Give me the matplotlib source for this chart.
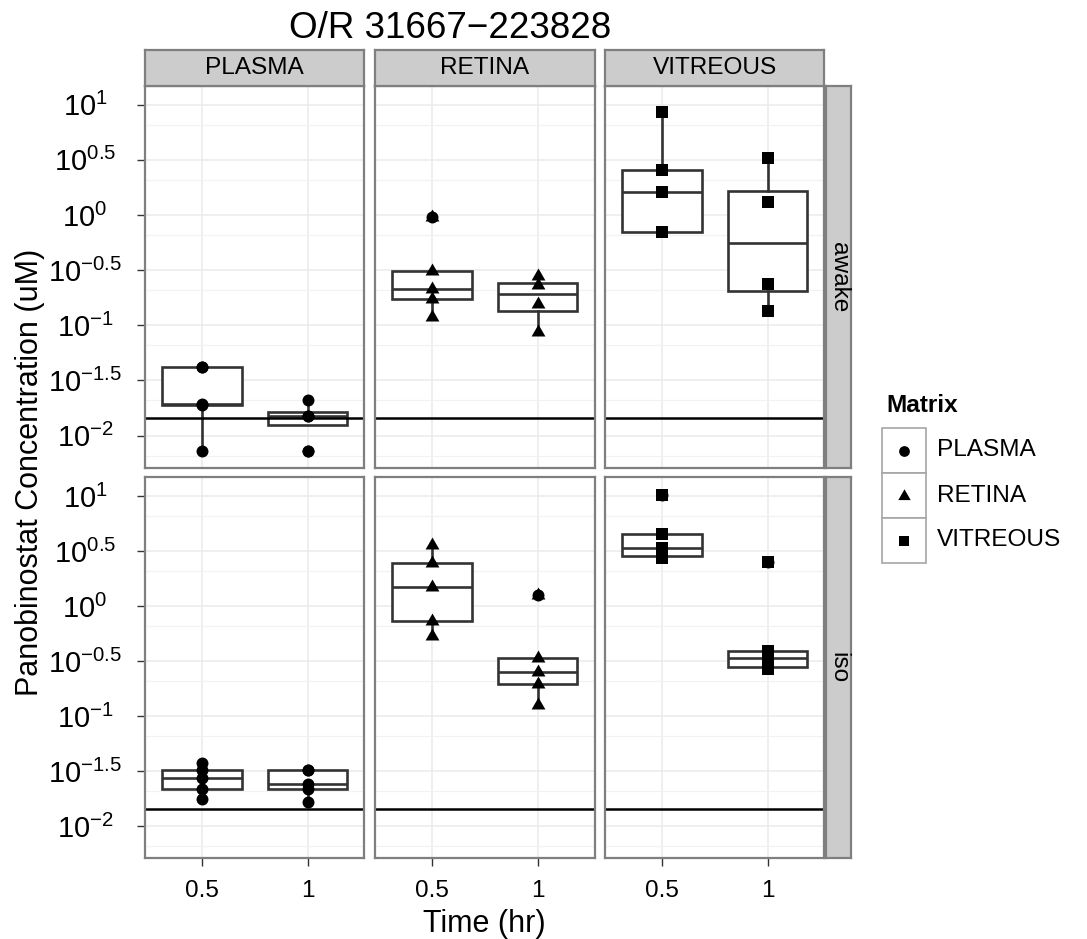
import numpy as np
import matplotlib
matplotlib.use("Agg")
import matplotlib.pyplot as plt
from matplotlib import cbook
from matplotlib.patches import Rectangle

plt.rcParams['font.family'] = ['Liberation Sans', 'DejaVu Sans']
plt.rcParams['mathtext.fontset'] = 'custom'
plt.rcParams['mathtext.rm'] = 'Liberation Sans'
plt.rcParams['mathtext.it'] = 'Liberation Sans:italic'
plt.rcParams['mathtext.bf'] = 'Liberation Sans:bold'

# ---------------- data (Panobinostat concentration, uM) ----------------
title = "O/R 31667\u2212223828"
matrices = ["PLASMA", "RETINA", "VITREOUS"]
states = ["awake", "iso"]
time_labels = ["0.5", "1"]
ytick_exps = [1, 0.5, 0, -0.5, -1, -1.5, -2]
ytick_labels = ["$10^{1}$", "$10^{0.5}$", "$10^{0}$", "$10^{-0.5}$",
                "$10^{-1}$", "$10^{-1.5}$", "$10^{-2}$"]
lloq = 0.0144

plasma_awake_05 = [0.00731, 0.0190, 0.0192, 0.0416, 0.0420]
plasma_awake_1 = [0.00731, 0.0149, 0.0149, 0.0211]
retina_awake_05 = [0.118, 0.173, 0.215, 0.310, 0.953]
retina_awake_1 = [0.0869, 0.157, 0.233, 0.277]
vitreous_awake_05 = [0.697, 0.697, 1.63, 2.56, 8.51]
vitreous_awake_1 = [0.134, 0.236, 1.32, 3.32]

plasma_iso_05 = [0.0177, 0.0219, 0.0275, 0.0327, 0.0377]
plasma_iso_1 = [0.0167, 0.0219, 0.0243, 0.0325, 0.0327]
retina_iso_05 = [0.533, 0.731, 1.49, 2.48, 3.61]
retina_iso_1 = [0.125, 0.195, 0.251, 0.337, 1.26]
vitreous_iso_05 = [2.75, 2.85, 3.35, 4.55, 10.35]
vitreous_iso_1 = [0.267, 0.281, 0.340, 0.390, 2.51]

data = {
    ("awake", "PLASMA"): [plasma_awake_05, plasma_awake_1],
    ("awake", "RETINA"): [retina_awake_05, retina_awake_1],
    ("awake", "VITREOUS"): [vitreous_awake_05, vitreous_awake_1],
    ("iso", "PLASMA"): [plasma_iso_05, plasma_iso_1],
    ("iso", "RETINA"): [retina_iso_05, retina_iso_1],
    ("iso", "VITREOUS"): [vitreous_iso_05, vitreous_iso_1],
}

# ---------------- styling ----------------
W, H = 1087, 939
fig = plt.figure(figsize=(W / 100, H / 100), dpi=100)
fig.patch.set_facecolor("white")


def rect(x0, y0, x1, y1):
    return [x0 / W, 1 - y1 / H, (x1 - x0) / W, (y1 - y0) / H]


tri = [(0, 1), (-0.866, -0.5), (0.866, -0.5)]
markers = {"PLASMA": ("o", 8.6), "RETINA": (tri, 11.5), "VITREOUS": ("s", 8.6)}

col_x = [(145, 364.5), (375, 594.5), (605, 824.5)]
row_y = [(86, 467.5), (477.5, 858)]
ylim = (-2.29, 1.17)
xlim = (0.46, 2.54)
box_c = "#333333"
border_c = "#7f7f7f"
fs_tick = 17.6
fs_ytick = 21
box_lw = 1.9
tick_len_pt = 6
ylab_center_px = 85

minor = [np.log10((10 ** a + 10 ** (a - 0.5)) / 2) for a in ytick_exps]

for r, st in enumerate(states):
    for c, mat in enumerate(matrices):
        ax = fig.add_axes(rect(col_x[c][0], row_y[r][0], col_x[c][1], row_y[r][1]))
        groups = data[(st, mat)]
        mk, ms = markers[mat]
        for i, vals in enumerate(groups):
            lv = np.log10(np.array(vals))
            stats = cbook.boxplot_stats(lv, whis=1.5)
            ax.bxp(stats, positions=[i + 1], widths=0.75, patch_artist=True,
                   showcaps=False, manage_ticks=False,
                   boxprops=dict(facecolor="white", edgecolor=box_c, linewidth=box_lw),
                   medianprops=dict(color=box_c, linewidth=box_lw),
                   whiskerprops=dict(color=box_c, linewidth=box_lw),
                   flierprops=dict(marker="o", markerfacecolor="black",
                                   markeredgecolor="none", markersize=8.6),
                   zorder=2)
            ax.plot(np.full(len(lv), i + 1), lv, linestyle="none", marker=mk,
                    markersize=ms, color="black", markeredgewidth=0, zorder=4)
        ax.axhline(np.log10(lloq), color="black", lw=1.8, zorder=5)

        ax.set_xlim(*xlim)
        ax.set_ylim(*ylim)
        ax.set_axisbelow(True)
        ax.set_yticks(ytick_exps)
        ax.set_yticks(minor, minor=True)
        ax.set_xticks([1, 2])
        ax.grid(which="major", color="#ebebeb", lw=1.1)
        ax.grid(which="minor", axis="y", color="#f2f2f2", lw=0.9)
        for sp in ax.spines.values():
            sp.set_color(border_c)
            sp.set_linewidth(1.6)
            sp.set_zorder(6)
        ax.tick_params(which="minor", length=0)
        ax.tick_params(which="major", color="#333333", width=1.0, length=tick_len_pt)
        if c == 0:
            ax.set_yticklabels(ytick_labels, fontsize=fs_ytick)
            for lab in ax.get_yticklabels():
                lab.set_horizontalalignment("center")
            pad_px = col_x[0][0] - tick_len_pt / 0.72 - ylab_center_px
            ax.tick_params(axis="y", pad=pad_px * 0.72)
        else:
            ax.tick_params(axis="y", length=0, labelleft=False)
        if r == 1:
            ax.set_xticklabels(time_labels, fontsize=fs_tick)
            ax.tick_params(axis="x", pad=10)
        else:
            ax.tick_params(axis="x", length=0, labelbottom=False)

# strips on top
for c, mat in enumerate(matrices):
    sax = fig.add_axes(rect(col_x[c][0], 50, col_x[c][1], 86))
    sax.set_facecolor("#cccccc")
    sax.set_xticks([]); sax.set_yticks([])
    for sp in sax.spines.values():
        sp.set_color(border_c); sp.set_linewidth(1.6)
    sax.text(0.5, 0.5, mat, ha="center", va="center", fontsize=fs_tick,
             transform=sax.transAxes)

# strips on right
for r, st in enumerate(states):
    sax = fig.add_axes(rect(826, row_y[r][0], 851, row_y[r][1]))
    sax.set_facecolor("#cccccc")
    sax.set_xticks([]); sax.set_yticks([])
    for sp in sax.spines.values():
        sp.set_color(border_c); sp.set_linewidth(1.6)
    sax.text(0.5, 0.5, st, ha="center", va="center", rotation=-90,
             fontsize=fs_tick, transform=sax.transAxes)

# titles
fig.text(450 / W, 1 - 38 / H, title, ha="center", va="baseline", fontsize=26.5)
fig.text(484.5 / W, 1 - 932 / H, "Time (hr)", ha="center", va="baseline", fontsize=22)
fig.text(30 / W, 1 - 472 / H, "Panobinostat Concentration (uM)", ha="center",
         va="center", rotation=90, fontsize=22)

# legend (drawn by hand, ggplot style)
lax = fig.add_axes([0, 0, 1, 1], facecolor="none")
lax.set_xlim(0, W); lax.set_ylim(H, 0); lax.axis("off")
lax.text(886, 405, "Matrix", fontsize=fs_tick, fontweight="bold", va="center", ha="left")
key_top = 428
for k, mat in enumerate(matrices):
    y0 = key_top + k * 45
    lax.add_patch(Rectangle((882, y0), 44, 45, facecolor="white",
                            edgecolor="#a6a6a6", lw=1.2))
    mk, ms = markers[mat]
    lax.plot([904], [y0 + 22.5], marker=mk, markersize=ms * 0.9, color="black",
             markeredgewidth=0, linestyle="none")
    lax.text(937, y0 + 22.5, mat, fontsize=fs_tick, va="center", ha="left")

fig.savefig("out.png", dpi=100)
